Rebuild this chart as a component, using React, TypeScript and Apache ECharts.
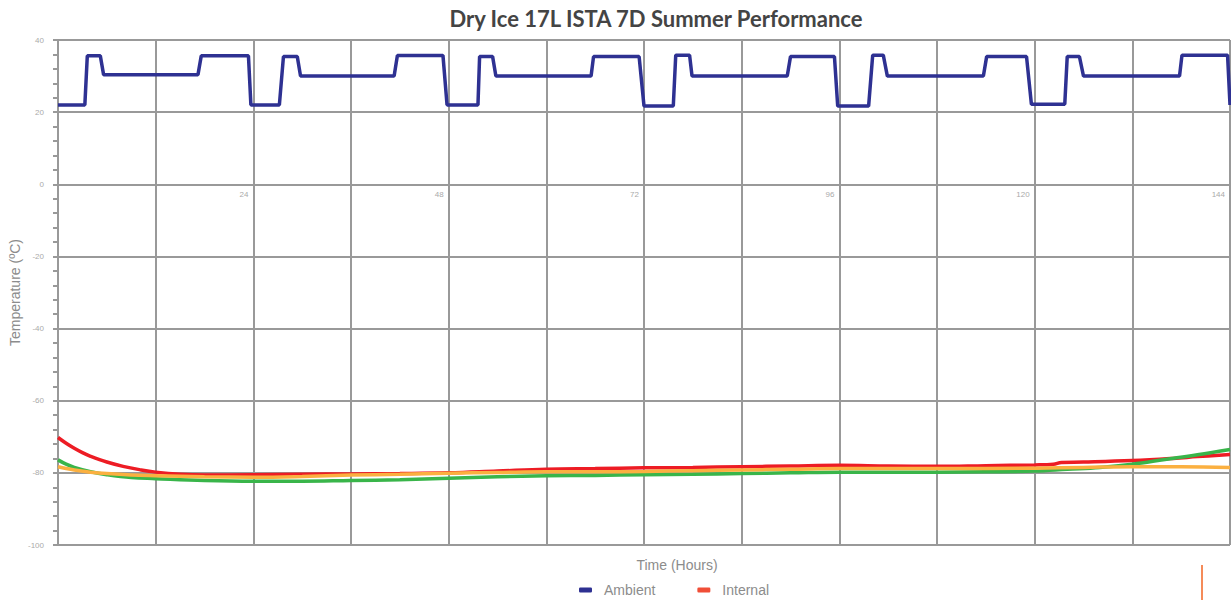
import React, { useEffect, useRef } from "react";
import * as echarts from "echarts";

const TITLE = "Dry Ice 17L ISTA 7D Summer Performance";
const X_NAME = "Time (Hours)";
const Y_NAME = "Temperature (ºC)";
const X_LABELS = [24, 48, 72, 96, 120, 144];

// [hour, °C]
const ambient: [number, number][] = [
  [0, 22], [3.3, 22], [3.6, 35.6], [5.2, 35.6], [5.6, 30.4], [17.2, 30.4], [17.6, 35.6], [23.4, 35.6], [23.7, 22],
  [27.2, 22], [27.7, 35.4], [29.4, 35.4], [29.8, 30], [41.3, 30], [41.7, 35.7], [47.3, 35.7], [47.8, 22],
  [51.6, 22], [51.8, 35.4], [53.4, 35.4], [53.8, 30], [65.5, 30], [65.8, 35.4], [71.4, 35.4], [72.0, 21.7],
  [75.6, 21.7], [75.9, 35.8], [77.6, 35.8], [77.9, 30], [89.6, 30], [90.0, 35.4], [95.4, 35.4], [95.8, 21.7],
  [99.6, 21.7], [100.1, 35.8], [101.4, 35.8], [101.9, 30], [113.7, 30], [114.1, 35.4], [119.0, 35.4], [119.6, 22.2],
  [123.7, 22.2], [124.0, 35.4], [125.5, 35.4], [126.0, 30], [137.8, 30], [138.1, 35.8], [143.7, 35.8], [144, 22],
];

const internalRed: [number, number][] = [
  [0, -70.2], [1, -71.8], [2, -73.2], [3, -74.4], [4, -75.4], [6, -77.0], [8, -78.2], [10, -79.1], [12, -79.8],
  [15, -80.4], [18, -80.6], [24, -80.5], [30, -80.4], [36, -80.3], [42, -80.2], [48, -80.0], [54, -79.5],
  [60, -79.0], [66, -78.8], [72, -78.6], [78, -78.5], [84, -78.3], [90, -78.1], [96, -77.9], [102, -78.1],
  [108, -78.2], [114, -78.0], [120, -77.8], [122.3, -77.6], [123.3, -77.1], [126, -77.0], [132, -76.6],
  [137, -76.0], [140, -75.5], [144, -74.9],
];

const internalGreen: [number, number][] = [
  [0, -76.4], [1, -77.6], [2, -78.5], [4, -79.7], [6, -80.5], [9, -81.3], [12, -81.6], [18, -82.1], [24, -82.3],
  [30, -82.3], [36, -82.1], [42, -81.9], [48, -81.5], [54, -81.1], [60, -80.8], [66, -80.7], [72, -80.5],
  [78, -80.4], [84, -80.2], [90, -80.0], [96, -79.8], [108, -79.8], [114, -79.7], [120, -79.5], [124, -79.0],
  [128, -78.5], [132, -77.6], [136, -76.3], [140, -75.0], [144, -73.5],
];

const internalOrange: [number, number][] = [
  [0, -78.3], [1, -78.8], [2, -79.2], [4, -79.8], [6, -80.2], [9, -80.6], [12, -80.8], [18, -81.1], [24, -81.2],
  [30, -81.0], [36, -80.6], [42, -80.4], [48, -80.1], [54, -79.9], [60, -79.7], [66, -79.7], [72, -79.6],
  [78, -79.4], [84, -79.2], [90, -79.0], [96, -78.8], [108, -78.8], [120, -78.7], [126, -78.5], [132, -78.3],
  [138, -78.3], [144, -78.5],
];

const GRID_COLOR = "#999999";
const LABEL_COLOR = "#aaaaaa";
const NAME_COLOR = "#8c8c8c";

const Y_MIN = -100;
const Y_MAX = 40;
const GRID_TOP = 40;
const GRID_BOTTOM = 55;
const CHART_H = 600;

export default function App() {
  const ref = useRef<HTMLDivElement>(null);
  useEffect(() => {
    if (!ref.current) return;
    const chart = echarts.init(ref.current, null, { renderer: "svg" });
    const plotH = CHART_H - GRID_TOP - GRID_BOTTOM;
    // move the x axis (labels) up from the bottom to the y = 0 line
    const zeroOffset = -(plotH * (0 - Y_MIN)) / (Y_MAX - Y_MIN);
    chart.setOption({
      animation: false,
      title: {
        text: TITLE,
        left: 651,
        textAlign: "center",
        top: 2,
        textStyle: { fontFamily: "Lato", fontWeight: "bold", fontSize: 22, color: "#444444" },
      },
      grid: {
        left: 58,
        right: 1,
        top: GRID_TOP,
        bottom: GRID_BOTTOM,
        containLabel: false,
        outerBoundsMode: "none",
      },
      legend: {
        left: 574,
        top: 578,
        itemWidth: 13,
        itemHeight: 5,
        itemGap: 42,
        icon: "roundRect",
        textStyle: { fontFamily: "Liberation Sans", fontSize: 14, color: NAME_COLOR, padding: [0, 0, 0, 7] },
        data: [
          { name: "Ambient", itemStyle: { color: "#2e3192" } },
          { name: "Internal", itemStyle: { color: "#f04e37" } },
        ],
      },
      xAxis: {
        type: "value",
        min: 0,
        max: 144,
        interval: 12,
        position: "bottom",
        offset: zeroOffset,
        axisLine: { show: false, onZero: false },
        axisTick: { show: false },
        axisLabel: {
          color: LABEL_COLOR,
          fontSize: 8,
          fontFamily: "Liberation Sans",
          align: "right",
          margin: 6,
          padding: [0, 5, 0, 0],
          showMinLabel: false,
          formatter: (v: number) => (X_LABELS.includes(v) ? String(v) : ""),
        },
        splitLine: { show: true, lineStyle: { color: GRID_COLOR, width: 2 } },
      },
      yAxis: {
        type: "value",
        min: Y_MIN,
        max: Y_MAX,
        interval: 20,
        name: Y_NAME,
        nameLocation: "middle",
        nameGap: 36,
        nameMoveOverlap: false,
        nameTextStyle: { fontFamily: "Liberation Sans", fontSize: 14, color: NAME_COLOR },
        axisLine: { show: true, lineStyle: { color: GRID_COLOR, width: 2 } },
        axisTick: { show: true, length: 5, lineStyle: { color: GRID_COLOR, width: 2 } },
        minorTick: { show: true, splitNumber: 5, length: 5, lineStyle: { color: GRID_COLOR, width: 2 } },
        axisLabel: { color: LABEL_COLOR, fontSize: 8, fontFamily: "Liberation Sans", margin: 14 },
        splitLine: { show: true, lineStyle: { color: GRID_COLOR, width: 2 } },
      },
      series: [
        {
          name: "Ambient",
          type: "line",
          data: ambient,
          showSymbol: false,
          lineStyle: { color: "#2e3192", width: 3.5 },
          itemStyle: { color: "#2e3192" },
        },
        {
          name: "Internal",
          type: "line",
          data: internalRed,
          smooth: 0.4,
          showSymbol: false,
          lineStyle: { color: "#ed1c24", width: 3.5 },
          itemStyle: { color: "#ed1c24" },
        },
        {
          name: "Internal 2",
          type: "line",
          data: internalGreen,
          smooth: 0.4,
          showSymbol: false,
          lineStyle: { color: "#39b54a", width: 3.5 },
          itemStyle: { color: "#39b54a" },
        },
        {
          name: "Internal 3",
          type: "line",
          data: internalOrange,
          smooth: 0.4,
          showSymbol: false,
          lineStyle: { color: "#fbb040", width: 3.5 },
          itemStyle: { color: "#fbb040" },
        },
      ],
      graphic: [
        {
          type: "text",
          x: 677,
          y: 565,
          style: {
            text: X_NAME,
            fill: NAME_COLOR,
            fontFamily: "Liberation Sans",
            fontSize: 14,
            textAlign: "center",
            textVerticalAlign: "middle",
          },
        },
        {
          type: "line",
          shape: { x1: 1202, y1: 565, x2: 1202, y2: 600 },
          style: { stroke: "#f26522", lineWidth: 1.5 },
        },
      ],
    });
    return () => chart.dispose();
  }, []);
  return (
    <div
      ref={ref}
      style={{ position: "fixed", left: 0, top: 0, width: 1231, height: 600, background: "#fff" }}
    />
  );
}
